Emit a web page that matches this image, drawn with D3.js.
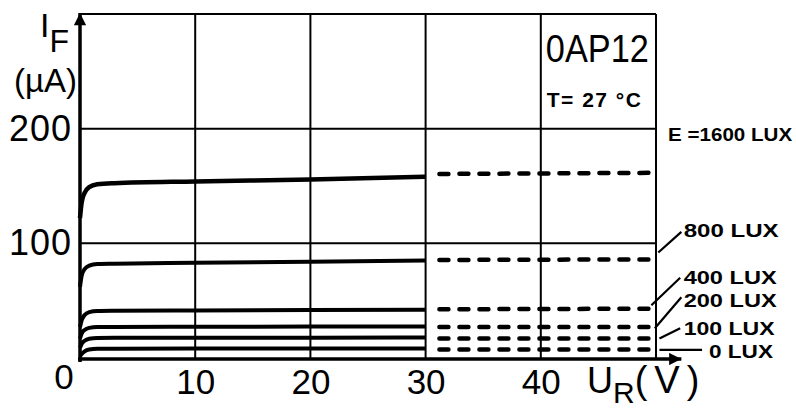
<!DOCTYPE html>
<html><head><meta charset="utf-8">
<script src="https://cdn.jsdelivr.net/npm/d3@7"></script>
<style>body{margin:0;background:#fff} svg{display:block}</style>
</head><body><svg id="c" width="796" height="410"></svg>
<script>
// ---- data ----
const xTicks = [10, 20, 30, 40];
const yTicks = [100, 200];
const luxNames = ["1600", "800", "400", "200", "100", "0"];
const luxLabels = ["E =1600 LUX", "800 LUX", "400 LUX", "200 LUX", "100 LUX", "0 LUX"];
const voltsSolid = [0, 0.15, 0.4, 0.8, 1.5, 3, 10, 20, 30];
const lux1600 = [122, 136, 144, 149, 151.5, 152.5, 154, 155.6, 158];
const lux800  = [62, 72, 77.5, 80.5, 82, 82.3, 83, 84, 85];
const lux400  = [27, 33, 37.5, 40, 41, 41.2, 41.5, 41.8, 42];
const lux200  = [17, 21.5, 24.5, 26.3, 27, 27.1, 27.2, 27.4, 27.5];
const lux100  = [9, 12.5, 15, 16.8, 17.5, 17.6, 17.7, 17.7, 17.8];
const lux0    = [1.5, 3.5, 5.8, 7.4, 8, 8.1, 8.2, 8.2, 8.2];
const voltsDashed = [31.2, 49.8];
const dash1600 = [160.5, 161.5];
const dash800  = [85.5, 86];
const dash400  = [42.5, 43];
const dash200  = [27, 27];
const dash100  = [17, 17];
const dash0    = [7.5, 7.5];
// label anchor (volts, µA), label widths, and leader lines [v1,i1,v2,i2]
const labelPos = [[51.05, 194], [52.4, 110], [52.4, 69], [52.4, 48.5], [52.4, 24.5], [54.6, 4.5]];
const labelWidth = [124, 95, 93, 93, 91, 64];
const leaders = [null, [50.2, 92, 52.2, 110], [49.6, 46, 52.1, 70], [49.9, 26, 52.2, 53], [50.3, 17, 52.1, 26], [50.3, 7, 54.0, 7]];

const solidSeries = [lux1600, lux800, lux400, lux200, lux100, lux0];
const dashSeries = [dash1600, dash800, dash400, dash200, dash100, dash0];

// ---- chart ----
const svg = d3.select("#c");
const x = d3.scaleLinear().domain([0, 50]).range([80, 656]);
const y = d3.scaleLinear().domain([0, 300]).range([358, 14]);
const FONT = "'Liberation Sans', Arial, sans-serif";

// grid
const g = svg.append("g").attr("stroke", "#000").attr("stroke-width", 2).attr("fill", "none");
xTicks.concat([50]).forEach(v => g.append("line").attr("x1", x(v)).attr("x2", x(v)).attr("y1", y(0)).attr("y2", y(300)));
yTicks.concat([300]).forEach(v => g.append("line").attr("x1", x(0)).attr("x2", x(50)).attr("y1", y(v)).attr("y2", y(v)));

// axes with arrows
svg.append("defs").append("marker").attr("id", "arr").attr("viewBox", "0 0 10 10")
  .attr("refX", 10).attr("refY", 5).attr("markerWidth", 5).attr("markerHeight", 3.5)
  .attr("orient", "auto").attr("markerUnits", "strokeWidth")
  .append("path").attr("d", "M0,0L10,5L0,10Z").attr("fill", "#000");
svg.append("line").attr("x1", x(0)).attr("x2", x(0)).attr("y1", y(0) + 4).attr("y2", y(300) - 1)
  .attr("stroke", "#000").attr("stroke-width", 3.5).attr("marker-end", "url(#arr)");
svg.append("line").attr("x1", x(0) - 2).attr("x2", x(52.2)).attr("y1", y(0) + 1).attr("y2", y(0) + 1)
  .attr("stroke", "#000").attr("stroke-width", 3.5).attr("marker-end", "url(#arr)");

// curves
const line = d3.line().curve(d3.curveMonotoneX);
solidSeries.forEach((s, k) => {
  svg.append("path").datum(voltsSolid.map((v, i) => [x(v), y(s[i])]))
    .attr("d", line).attr("fill", "none").attr("stroke", "#000")
    .attr("stroke-width", k === 0 ? 4.5 : 4).attr("stroke-linecap", "butt");
});
dashSeries.forEach((s, k) => {
  svg.append("path").datum(voltsDashed.map((v, i) => [x(v), y(s[i])]))
    .attr("d", d3.line()).attr("fill", "none").attr("stroke", "#000")
    .attr("stroke-width", 4.5).attr("stroke-dasharray", "9,11").attr("stroke-linecap", "round");
});

// leaders & labels
leaders.forEach(l => {
  if (!l) return;
  svg.append("line").attr("x1", x(l[0])).attr("y1", y(l[1])).attr("x2", x(l[2])).attr("y2", y(l[3]))
    .attr("stroke", "#000").attr("stroke-width", 2.2);
});
luxLabels.forEach((t, k) => {
  svg.append("text").attr("x", x(labelPos[k][0])).attr("y", y(labelPos[k][1]))
    .attr("dominant-baseline", "middle").attr("font-family", FONT).attr("font-weight", "bold")
    .attr("font-size", 19).attr("textLength", labelWidth[k]).attr("lengthAdjust", "spacingAndGlyphs").text(t);
});

// axis tick labels via d3 axes
const xAxis = svg.append("g").attr("transform", `translate(0,${y(0)})`)
  .call(d3.axisBottom(x).tickValues(xTicks).tickSize(0).tickPadding(11).tickFormat(d3.format("d")));
xAxis.select(".domain").remove();
xAxis.selectAll("text").attr("font-family", FONT).attr("font-size", 35).attr("fill", "#000");

const yAxis = svg.append("g").attr("transform", `translate(${x(0) - 6},0)`)
  .call(d3.axisLeft(y).tickValues(yTicks).tickSize(0).tickPadding(2).tickFormat(d3.format("d")));
yAxis.select(".domain").remove();
yAxis.selectAll("text").attr("font-family", FONT).attr("font-size", 36).attr("fill", "#000")
  .attr("letter-spacing", 1);

// origin label
svg.append("text").attr("x", x(0) - 16).attr("y", y(0) + 31).attr("text-anchor", "middle")
  .attr("font-family", FONT).attr("font-size", 35).text("0");

// axis titles
const yt = svg.append("text").attr("font-family", FONT).attr("font-size", 34);
yt.append("tspan").attr("x", 40).attr("y", 37).text("I");
yt.append("tspan").attr("dy", 15).attr("font-size", 32).text("F");
svg.append("text").attr("x", 14).attr("y", 92).attr("font-family", FONT).attr("font-size", 33)
  .text("(µA)");
const xt = svg.append("text").attr("font-family", FONT).attr("font-size", 36);
xt.append("tspan").attr("x", 587).attr("y", 393).text("U");
xt.append("tspan").attr("dy", 10).attr("font-size", 30).text("R");
xt.append("tspan").attr("dy", -10).attr("font-size", 38).attr("letter-spacing", 7).text("(V)");

// box text
svg.append("text").attr("x", x(40) + 5).attr("y", 62).attr("font-family", FONT).attr("font-size", 38)
  .attr("textLength", 103).attr("lengthAdjust", "spacingAndGlyphs").text("0AP12");
svg.append("text").attr("x", x(40) + 6).attr("y", 107).attr("font-family", FONT).attr("font-weight", "bold")
  .attr("font-size", 21).attr("textLength", 94).attr("lengthAdjust", "spacing").text("T= 27 °C");
</script></body></html>
